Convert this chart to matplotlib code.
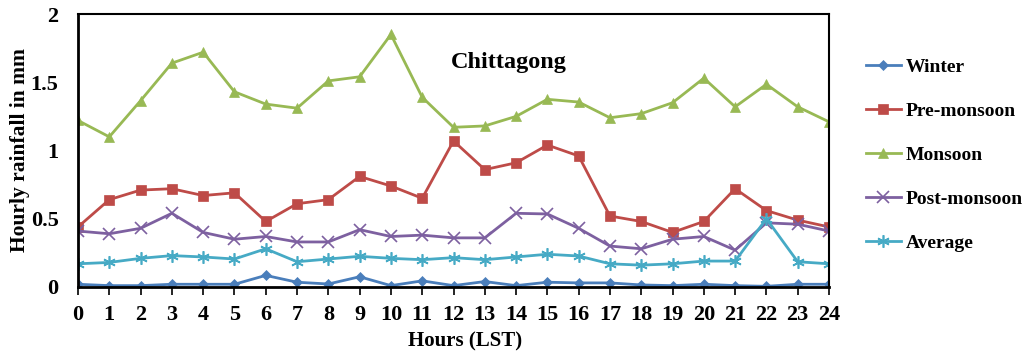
import matplotlib
matplotlib.use("Agg")
import matplotlib.pyplot as plt

hours = list(range(25))

winter = [0.02, 0.01, 0.01, 0.02, 0.02, 0.02, 0.085, 0.035, 0.022, 0.075, 0.01, 0.045, 0.01,
          0.04, 0.01, 0.035, 0.03, 0.03, 0.015, 0.01, 0.02, 0.01, 0.005, 0.02, 0.02]
pre_monsoon = [0.44, 0.64, 0.71, 0.72, 0.67, 0.69, 0.48, 0.61, 0.64, 0.81, 0.74, 0.65, 1.07,
               0.86, 0.91, 1.04, 0.96, 0.52, 0.48, 0.40, 0.48, 0.72, 0.56, 0.49, 0.44]
monsoon = [1.22, 1.10, 1.365, 1.64, 1.72, 1.43, 1.34, 1.31, 1.51, 1.54, 1.85, 1.39, 1.17,
           1.18, 1.25, 1.375, 1.355, 1.24, 1.27, 1.35, 1.53, 1.32, 1.485, 1.32, 1.21]
post_monsoon = [0.41, 0.39, 0.43, 0.54, 0.40, 0.35, 0.37, 0.33, 0.33, 0.42, 0.37, 0.38, 0.36,
                0.36, 0.54, 0.535, 0.43, 0.30, 0.28, 0.35, 0.37, 0.27, 0.47, 0.46, 0.41]
average = [0.17, 0.18, 0.21, 0.23, 0.22, 0.205, 0.28, 0.185, 0.205, 0.225, 0.21, 0.20, 0.215,
           0.20, 0.22, 0.24, 0.227, 0.17, 0.16, 0.17, 0.19, 0.19, 0.50, 0.185, 0.17]

series = [
    ("Winter", winter, "#4A7EBB", "D", 5),
    ("Pre-monsoon", pre_monsoon, "#BE4B48", "s", 7),
    ("Monsoon", monsoon, "#98B954", "^", 7),
    ("Post-monsoon", post_monsoon, "#7D60A0", "x", 8),
    ("Average", average, "#46AAC5", (6, 2, 0), 9),
]

plt.rcParams['font.family'] = ['Liberation Serif', 'DejaVu Serif']
plt.rcParams['font.weight'] = 'bold'

fig = plt.figure(figsize=(10.31, 3.57), dpi=100)
ax = fig.add_axes([78 / 1031, 1 - 287 / 357, (829 - 78) / 1031, (287 - 14) / 357])

for name, vals, color, marker, ms in series:
    ax.plot(hours, vals, color=color, marker=marker, markersize=ms, linewidth=2,
            markeredgewidth=1.2 if marker in ("x", (6, 2, 0)) else 0.5,
            markeredgecolor=color, label=name)

ax.set_xlim(0, 24)
ax.set_ylim(0, 2)
ax.set_xticks(hours)
ax.set_yticks([0, 0.5, 1, 1.5, 2])
ax.set_yticklabels(["0", "0.5", "1", "1.5", "2"])
ax.tick_params(axis='x', direction='out', length=6, width=1.2, labelsize=16, pad=7)
ax.tick_params(axis='y', length=0, labelsize=16, pad=14)
for lab in ax.get_xticklabels() + ax.get_yticklabels():
    lab.set_fontweight('bold')

for side in ['left', 'bottom']:
    ax.spines[side].set_linewidth(2)
for side in ['top', 'right']:
    ax.spines[side].set_linewidth(1.5)

ax.set_xlabel("Hours (LST)", fontsize=15, fontweight='bold', va='center')
ax.xaxis.set_label_coords(0.515, -0.20)
ax.set_ylabel("Hourly rainfall in mm", fontsize=15.5, fontweight='bold', va='center')
ax.yaxis.set_label_coords(-0.077, 0.5)
ax.text(0.573, 0.824, "Chittagong", transform=ax.transAxes, fontsize=17.5,
        fontweight='bold', ha='center', va='center')

fig.legend(loc='center left', bbox_to_anchor=(848 / 1031, 1 - 155 / 357), frameon=False,
           handlelength=1.85, handletextpad=0.2, labelspacing=1.35,
           prop={'weight': 'bold', 'size': 14})

fig.savefig("out.png", dpi=100)
